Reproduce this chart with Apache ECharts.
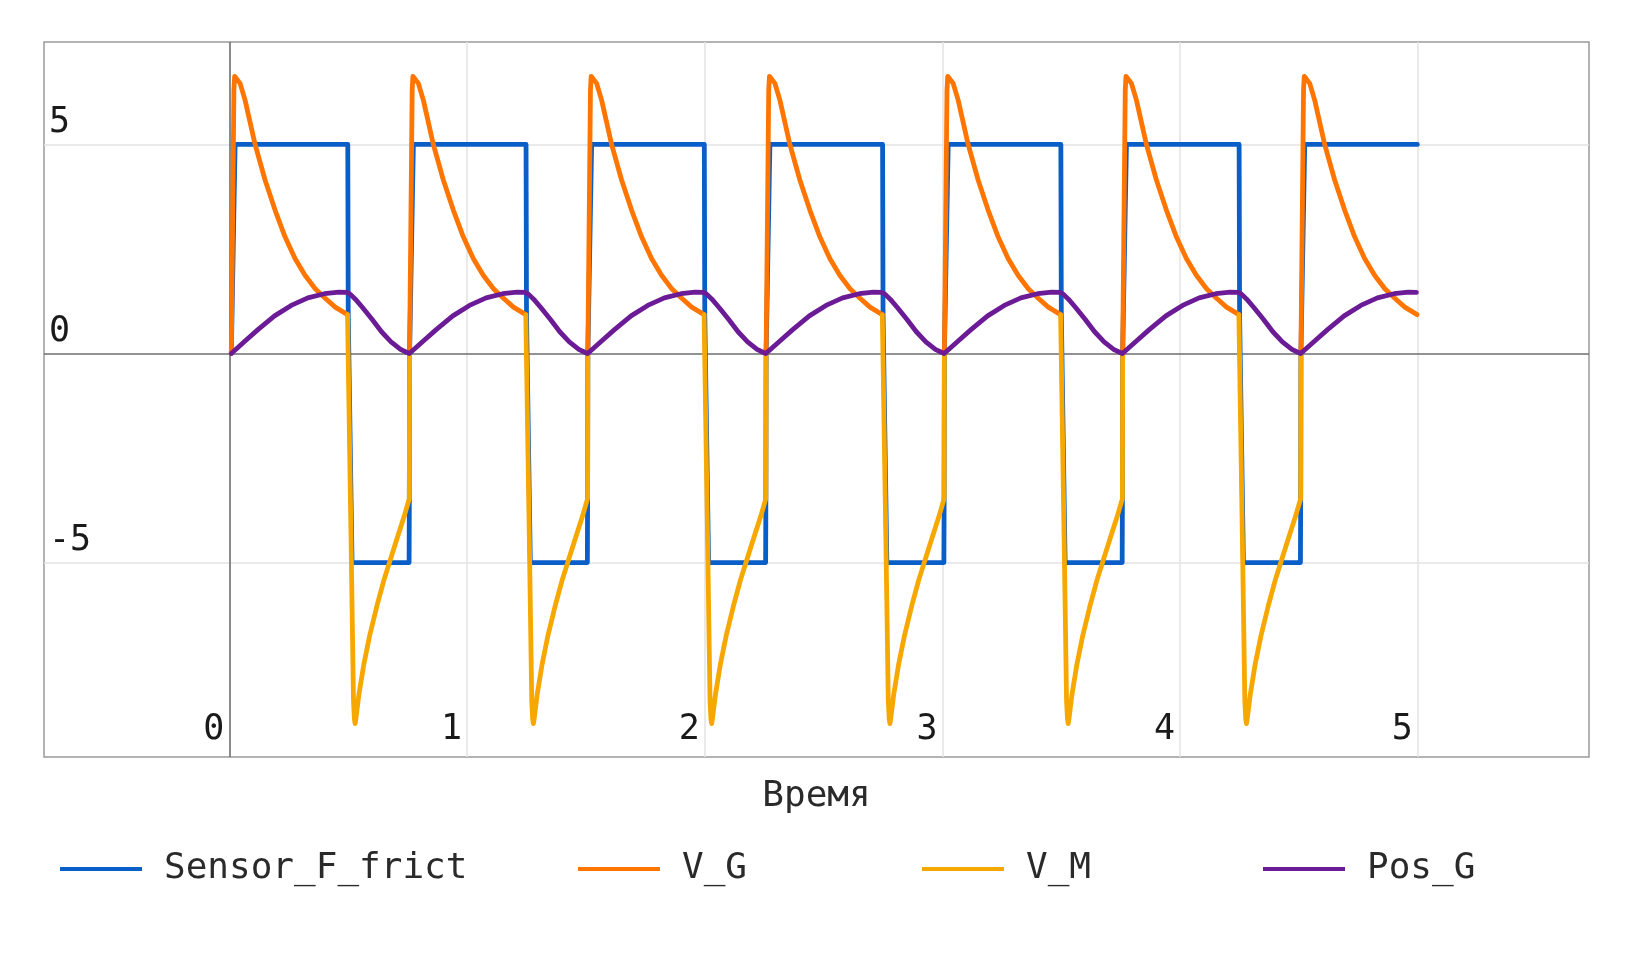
<!DOCTYPE html>
<html>
<head>
<meta charset="utf-8">
<title>Sensor_F_frict / V_G / V_M / Pos_G</title>
<script src="https://cdn.jsdelivr.net/npm/echarts@6/dist/echarts.min.js"></script>
<style>
  html, body { margin: 0; padding: 0; background: #fff; }
  #chart { width: 1635px; height: 962px; }
</style>
</head>
<body>
<div id="chart"></div>
<script>
// начала циклов (с)
var cycleStarts = [0, 0.75, 1.5, 2.25, 3.0, 3.75, 4.5];

// один цикл: время от начала цикла и значение
// фаза сцепления (stick)
var frictStickT = [0.008, 0.024, 0.498];
var frictStickV = [0, 5, 5];
// фаза проскальзывания (slip)
var frictSlipT = [0.500, 0.516, 0.756, 0.757];
var frictSlipV = [0.9, -5, -5, -3.47];

var vgStickT = [0.008, 0.019, 0.022, 0.030, 0.045, 0.066, 0.108, 0.150, 0.192, 0.234, 0.276, 0.318, 0.361, 0.403, 0.445, 0.497];
var vgStickV = [0, 6.3, 6.63, 6.6, 6.46, 6.06, 5.0, 4.15, 3.43, 2.79, 2.27, 1.87, 1.55, 1.32, 1.11, 0.93];

var vmSlipT = [0.497, 0.512, 0.522, 0.526, 0.529, 0.533, 0.545, 0.565, 0.590, 0.620, 0.650, 0.680, 0.710, 0.735, 0.757, 0.758];
var vmSlipV = [0.93, -4.5, -8.3, -8.75, -8.85, -8.7, -8.15, -7.45, -6.75, -6.05, -5.42, -4.88, -4.34, -3.9, -3.47, 0];

var posStickT = [0.008, 0.066, 0.12, 0.19, 0.26, 0.33, 0.40, 0.46, 0.494];
var posStickV = [0, 0.30, 0.57, 0.90, 1.15, 1.33, 1.43, 1.47, 1.46];
var posSlipT = [0.508, 0.53, 0.56, 0.60, 0.64, 0.68, 0.72, 0.745, 0.757];
var posSlipV = [1.42, 1.30, 1.10, 0.82, 0.52, 0.28, 0.10, 0.03, 0];

var xLabels = [0, 1, 2, 3, 4, 5];
var yLabels = [-5, 0, 5];

var colors = ['#0a5ec8', '#ff7500', '#f7a800', '#6c1b96'];
var monoFont = '"DejaVu Sans Mono", monospace';

var pushPart = function (out, c, ts, vs) {
	for (var i = 0; i < ts.length; i++) {
		out.push([+(c + ts[i]).toFixed(4), vs[i]]);
	}
};

var frictData = [], vgData = [], vmData = [], posData = [];
for (var k = 0; k < cycleStarts.length; k++) {
	var c = cycleStarts[k];
	var last = (k === cycleStarts.length - 1);
	pushPart(frictData, c, frictStickT, frictStickV);
	pushPart(vgData, c, vgStickT, vgStickV);
	vgData.push([c + 0.6, null]);
	pushPart(posData, c, posStickT, posStickV);
	if (!last) {
		pushPart(frictData, c, frictSlipT, frictSlipV);
		pushPart(vmData, c, vmSlipT, vmSlipV);
		vmData.push([c + 0.76, null]);
		pushPart(posData, c, posSlipT, posSlipV);
	}
}

var gridLines = [];
xLabels.forEach(function (v) { if (v !== 0) gridLines.push({ xAxis: v }); });
yLabels.forEach(function (v) { if (v !== 0) gridLines.push({ yAxis: v }); });

var lineSeries = function (name, data, color) {
	return {
		name: name,
		type: 'line',
		data: data,
		z: 3,
		showSymbol: false,
		symbol: 'none',
		connectNulls: false,
		animation: false,
		lineStyle: { color: color, width: 4.8, join: 'round', cap: 'round' },
		itemStyle: { color: color }
	};
};

var legendItem = function (name, left) {
	return {
		data: [name],
		left: left,
		top: 851,
		padding: 0,
		icon: 'rect',
		itemWidth: 82,
		itemHeight: 4,
		textStyle: { fontFamily: monoFont, fontSize: 36, color: '#2a2a2a', padding: [0, 0, 0, 17] }
	};
};

var option = {
	backgroundColor: '#ffffff',
	animation: false,
	grid: {
		left: 44, right: 46, top: 42, bottom: 205,
		show: true, borderColor: '#9a9a9a', borderWidth: 1.5, backgroundColor: 'transparent'
	},
	legend: [
		legendItem('Sensor_F_frict', 60),
		legendItem('V_G', 578),
		legendItem('V_M', 922),
		legendItem('Pos_G', 1263)
	],
	xAxis: {
		type: 'value',
		min: -0.78,
		max: 5.72,
		name: 'Время',
		nameLocation: 'middle',
		nameGap: 22,
		nameTextStyle: { fontFamily: monoFont, fontSize: 36, color: '#2a2a2a' },
		axisLine: { show: false, onZero: false },
		axisTick: { show: false },
		splitLine: { show: false },
		axisLabel: {
			inside: true,
			customValues: xLabels,
			align: 'right',
			verticalAlign: 'bottom',
			margin: 10,
			padding: [0, 5, 0, 0],
			fontFamily: monoFont,
			fontSize: 35,
			color: '#1a1a1a'
		}
	},
	yAxis: {
		type: 'value',
		min: -9.65,
		max: 7.45,
		axisLine: { show: false, onZero: false },
		axisTick: { show: false },
		splitLine: { show: false },
		axisLabel: {
			inside: true,
			customValues: yLabels,
			align: 'left',
			verticalAlign: 'bottom',
			margin: 5,
			padding: [0, 0, 4, 0],
			fontFamily: monoFont,
			fontSize: 35,
			color: '#1a1a1a'
		}
	},
	series: [
		{
			name: 'grid',
			type: 'line',
			data: [],
			z: 1,
			silent: true,
			markLine: {
				z: 1,
				silent: true,
				symbol: 'none',
				animation: false,
				label: { show: false },
				lineStyle: { color: '#e3e3e3', width: 1.5, type: 'solid' },
				data: gridLines.concat([
					{ xAxis: 0, lineStyle: { color: '#6e6e6e', width: 1.6 } },
					{ yAxis: 0, lineStyle: { color: '#6e6e6e', width: 1.6 } }
				])
			}
		},
		lineSeries('Sensor_F_frict', frictData, colors[0]),
		lineSeries('V_G', vgData, colors[1]),
		lineSeries('V_M', vmData, colors[2]),
		lineSeries('Pos_G', posData, colors[3])
	]
};

var chart = echarts.init(document.getElementById('chart'));
chart.setOption(option);
</script>
</body>
</html>
